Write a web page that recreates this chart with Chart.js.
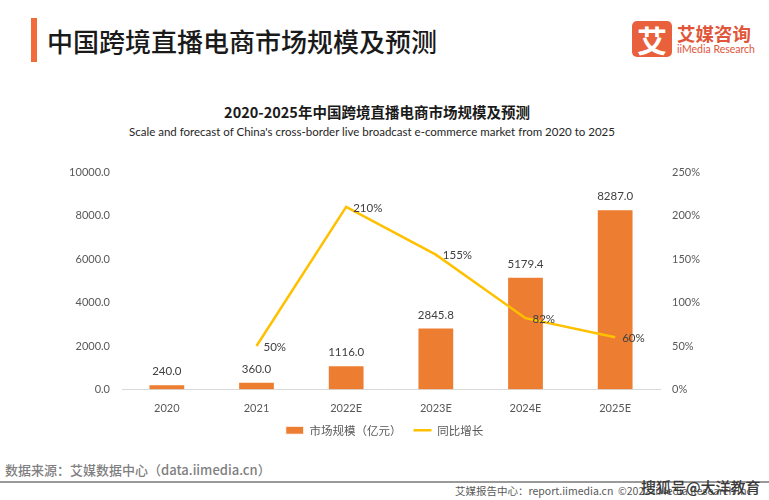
<!DOCTYPE html>
<html>
<head>
<meta charset="utf-8">
<script src="https://cdn.jsdelivr.net/npm/chart.js@4"></script>
<style>
	body { margin: 0; width: 769px; height: 500px; background: #fff; position: relative; overflow: hidden; font-family: 'Noto Sans CJK SC', sans-serif; }
	.abs { position: absolute; white-space: nowrap; }
	#bar { left: 31px; top: 18px; width: 6px; height: 44px; background: #f26b3a; }
	#head { left: 47px; top: 24px; font-size: 26px; line-height: 34px; color: #1a1a1a; font-weight: 500; }
	#logo { left: 632px; top: 21px; width: 40px; height: 36px; background: #e8613c; border-radius: 5px; color: #fff; font-size: 30px; line-height: 36px; text-align: center; font-weight: 700; }
	#logo1 { left: 677px; top: 21px; font-size: 18.5px; line-height: 24px; color: #e1553a; font-weight: 700; }
	#logo2 { left: 677px; top: 42px; font-size: 10.5px; line-height: 14px; color: #e1553a; font-family: Lato, sans-serif; }
	#title { left: 0; width: 754px; top: 101px; text-align: center; font-size: 14.5px; line-height: 22px; font-weight: 700; color: #1a1a1a; }
	#sub { left: 0; width: 744px; top: 124px; text-align: center; font-size: 11.5px; line-height: 16px; color: #262626; font-family: Lato, 'Noto Sans CJK SC', sans-serif; }
	#chartBox { left: 0; top: 150px; width: 769px; height: 300px; }
	#src { left: 5px; top: 460px; font-size: 13px; line-height: 20px; color: #7f7f7f; font-weight: 500; }
	#rule { left: 0; top: 481px; width: 769px; height: 2px; background: #9a9a9a; }
	#foot { left: 455px; top: 484px; font-size: 10.5px; line-height: 14px; color: #595959; }
	#mark { left: 641px; top: 477px; font-size: 15px; line-height: 20px; color: #3a3a3a; font-weight: 500; }
</style>
</head>
<body>
<div class="abs" id="bar"></div>
<div class="abs" id="head">中国跨境直播电商市场规模及预测</div>
<div class="abs" id="logo">艾</div>
<div class="abs" id="logo1">艾媒咨询</div>
<div class="abs" id="logo2">iiMedia Research</div>
<div class="abs" id="title">2020-2025年中国跨境直播电商市场规模及预测</div>
<div class="abs" id="sub">Scale and forecast of China's cross-border live broadcast e-commerce market from 2020 to 2025</div>
<div class="abs" id="chartBox"><canvas id="chart" width="769" height="300"></canvas></div>
<div class="abs" id="src">数据来源：艾媒数据中心（data.iimedia.cn）</div>
<div class="abs" id="rule"></div>
<div class="abs" id="foot">艾媒报告中心：report.iimedia.cn &nbsp;©2022 iiMedia Research Inc</div>
<div class="abs" id="mark">搜狐号@大洋教育</div>
<script>
// 数据
const years = ['2020', '2021', '2022E', '2023E', '2024E', '2025E'];
const marketSize = [240.0, 360.0, 1116.0, 2845.8, 5179.4, 8287.0];
const growth = [null, 50, 210, 155, 82, 60];
const barLabel = '市场规模（亿元）';
const lineLabel = '同比增长';

const tickFont = { family: "Lato, 'Noto Sans CJK SC', sans-serif", size: 11 };

// 数据标签
const valueLabels = {
	id: 'valueLabels',
	afterDatasetsDraw(chart) {
		const ctx = chart.ctx;
		ctx.save();
		ctx.font = "11.5px Lato, 'Noto Sans CJK SC', sans-serif";
		ctx.fillStyle = '#404040';
		chart.getDatasetMeta(0).data.forEach((bar, i) => {
			ctx.textAlign = 'center';
			ctx.textBaseline = 'bottom';
			ctx.fillText(marketSize[i].toFixed(1), bar.x, bar.y - 7);
		});
		chart.getDatasetMeta(1).data.forEach((pt, i) => {
			if (growth[i] === null) return;
			ctx.textAlign = 'left';
			ctx.textBaseline = 'middle';
			ctx.fillText(growth[i] + '%', pt.x + 7, pt.y + 1);
		});
		ctx.restore();
	},
};

new Chart(document.getElementById('chart'), {
	data: {
		labels: years,
		datasets: [
			{
				type: 'bar',
				label: barLabel,
				data: marketSize,
				backgroundColor: '#ed7d31',
				borderColor: '#ffffff',
				borderWidth: 1,
				barPercentage: 0.82,
				categoryPercentage: 0.5,
				yAxisID: 'y',
				pointStyle: 'rect',
				order: 2,
			},
			{
				type: 'line',
				label: lineLabel,
				data: growth,
				borderColor: '#ffc000',
				backgroundColor: '#ffc000',
				borderWidth: 2.5,
				pointRadius: 0,
				tension: 0,
				yAxisID: 'y1',
				pointStyle: 'line',
				order: 1,
			},
		],
	},
	options: {
		responsive: false,
		animation: false,
		layout: { padding: { top: 22, bottom: 4 } },
		plugins: {
			tooltip: { enabled: false },
			legend: {
				position: 'bottom',
				labels: {
					usePointStyle: true,
					pointStyleWidth: 18,
					boxWidth: 18,
					boxHeight: 8,
					padding: 12,
					color: '#595959',
					font: { family: "'Noto Sans CJK SC', sans-serif", size: 11.5 },
					sort: (a, b) => a.datasetIndex - b.datasetIndex,
				},
			},
		},
		scales: {
			x: {
				grid: { display: false, drawTicks: false },
				border: { color: '#d9d9d9' },
				ticks: { color: '#595959', font: tickFont, padding: 12 },
				afterFit: (s) => { s.height = 23; },
			},
			y: {
				position: 'left',
				min: 0,
				max: 10000,
				grid: { display: false, drawTicks: false },
				border: { display: false },
				ticks: {
					stepSize: 2000,
					color: '#595959',
					font: tickFont,
					padding: 12,
					callback: (v) => v.toFixed(1),
				},
				afterFit: (s) => { s.width = 122; },
			},
			y1: {
				position: 'right',
				min: 0,
				max: 250,
				grid: { display: false, drawTicks: false },
				border: { display: false },
				ticks: {
					stepSize: 50,
					color: '#595959',
					font: tickFont,
					padding: 12,
					callback: (v) => v + '%',
				},
				afterFit: (s) => { s.width = 109; },
			},
		},
	},
	plugins: [valueLabels],
});
</script>
</body>
</html>
